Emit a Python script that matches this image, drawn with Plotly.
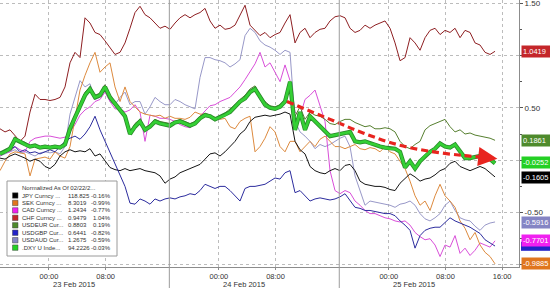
import numpy as np
import pandas as pd
import plotly.graph_objects as go

# ---------------- data (normalized % change since 02/22) ----------------
TIME = pd.date_range("2015-02-22 17:05", "2015-02-25 15:00", periods=100)

JPY = [0.02, 0.01, 0.04, 0.06, 0.04, 0.02, -0.01, 0.01, -0.01, -0.06,
       -0.08, -0.04, 0.04, 0.08, 0.10, 0.08, 0.09, 0.08, 0.11, 0.04,
       0.06, -0.01, -0.07, -0.09, -0.10, -0.08, -0.10, -0.09, -0.08, -0.10,
       -0.11, -0.12, -0.15, -0.22, -0.18, -0.16, -0.12, -0.10, -0.08, -0.06,
       -0.04, 0.01, 0.06, 0.07, 0.04, 0.08, 0.13, 0.18, 0.25, 0.29,
       0.37, 0.41, 0.42, 0.43, 0.42, 0.43, 0.44, 0.46, 0.44, 0.18,
       0.10, 0.06, -0.06, -0.10, -0.12, -0.13, -0.10, -0.08, -0.10, -0.05,
       -0.04, -0.10, -0.20, -0.23, -0.24, -0.25, -0.25, -0.26, -0.28, -0.29,
       -0.22, -0.17, -0.13, -0.16, -0.20, -0.18, -0.17, -0.14, -0.10, -0.08,
       -0.03, -0.01, -0.06, -0.08, -0.10, -0.08, -0.06, -0.08, -0.12, -0.16]

SEK = [-0.10, -0.01, 0.06, 0.08, 0.07, 0.06, -0.15, 0.01, 0.02, 0.03,
       0.01, 0.08, 0.04, 0.02, 0.13, 0.42, 0.67, 0.81, 0.93, 1.03,
       0.84, 0.89, 0.93, 0.70, 0.56, 0.70, 0.56, 0.51, 0.46, 0.44,
       0.43, 0.42, 0.43, 0.40, 0.42, 0.40, 0.40, 0.39, 0.41, 0.46,
       0.44, 0.44, 0.42, 0.41, 0.39, 0.40, 0.32, 0.30, 0.37, 0.40,
       0.42, 0.08, 0.13, 0.21, 0.32, 0.27, 0.13, 0.08, 0.18, 0.18,
       0.08, 0.13, 0.18, 0.13, 0.20, 0.23, 0.18, 0.13, 0.13, 0.11,
       0.13, 0.15, 0.11, 0.10, 0.12, 0.11, 0.08, 0.13, 0.08, 0.06,
       -0.01, -0.08, -0.20, -0.34, -0.43, -0.39, -0.48, -0.34, -0.23, -0.34,
       -0.39, -0.45, -0.58, -0.65, -0.76, -0.69, -0.81, -0.88, -0.92, -0.99]

CAD = [0.04, 0.07, 0.08, 0.13, 0.10, 0.08, 0.18, 0.21, 0.22, 0.23,
       0.23, 0.22, 0.21, 0.22, 0.27, 0.34, 0.43, 0.48, 0.51, 0.56,
       0.58, 0.65, 0.56, 0.49, 0.49, 0.46, 0.48, 0.53, 0.46, 0.18,
       0.43, 0.42, 0.40, 0.40, 0.39, 0.37, 0.34, 0.32, 0.31, 0.35,
       0.42, 0.47, 0.52, 0.53, 0.56, 0.58, 0.60, 0.65, 0.70, 0.77,
       0.84, 0.92, 1.03, 0.89, 0.93, 0.84, 0.75, 0.91, 0.76, 0.46,
       0.42, 0.58, 0.62, 0.67, 0.51, 0.37, -0.10, -0.29, -0.32, -0.29,
       -0.31, -0.39, -0.43, -0.48, -0.51, -0.51, -0.53, -0.55, -0.56, -0.58,
       -0.59, -0.58, -0.62, -0.69, -0.73, -0.76, -0.75, -0.81, -0.92, -0.81,
       -0.83, -0.72, -0.89, -0.84, -0.91, -0.86, -0.79, -0.81, -0.83, -0.77]

CHF = [0.30, 0.27, 0.29, 0.23, 0.18, 0.23, 0.46, 0.63, 0.58, 0.58,
       0.57, 0.58, 0.60, 0.70, 0.93, 1.03, 0.98, 1.36, 1.31, 1.22,
       1.20, 1.14, 1.08, 1.01, 1.03, 1.12, 1.26, 1.41, 1.47, 1.39,
       1.36, 1.31, 1.26, 1.28, 1.25, 1.31, 1.36, 1.39, 1.36, 1.39,
       1.41, 1.45, 1.33, 1.26, 1.29, 1.25, 1.26, 1.29, 1.39, 1.48,
       1.29, 1.24, 1.19, 1.22, 1.17, 1.20, 1.22, 1.31, 1.39, 1.12,
       1.22, 1.26, 1.17, 1.22, 1.25, 1.26, 1.33, 1.37, 1.38, 1.36,
       1.26, 1.22, 1.24, 1.29, 1.26, 1.29, 1.31, 1.33, 1.26, 1.12,
       0.95, 0.98, 1.17, 1.12, 1.05, 1.17, 1.24, 1.26, 1.20, 1.24,
       1.22, 1.26, 1.17, 1.24, 1.22, 1.12, 1.10, 1.03, 1.01, 1.04]

USDEUR = [0.07, 0.09, 0.13, 0.22, 0.19, 0.17, 0.14, 0.15, 0.13, 0.14,
          0.13, 0.14, 0.13, 0.17, 0.33, 0.43, 0.54, 0.65, 0.70, 0.62,
          0.64, 0.72, 0.62, 0.56, 0.50, 0.43, 0.27, 0.35, 0.39, 0.31,
          0.34, 0.39, 0.37, 0.36, 0.35, 0.37, 0.39, 0.37, 0.35, 0.37,
          0.42, 0.45, 0.43, 0.40, 0.42, 0.45, 0.49, 0.53, 0.58, 0.62,
          0.68, 0.71, 0.62, 0.56, 0.52, 0.51, 0.53, 0.58, 0.70, 0.42,
          0.51, 0.39, 0.46, 0.43, 0.42, 0.39, 0.35, 0.34, 0.37, 0.39,
          0.39, 0.36, 0.34, 0.32, 0.33, 0.30, 0.30, 0.31, 0.30, 0.27,
          0.18, 0.13, 0.11, 0.15, 0.18, 0.29, 0.33, 0.35, 0.37, 0.39,
          0.32, 0.27, 0.29, 0.25, 0.26, 0.24, 0.23, 0.22, 0.21, 0.19]

USDGBP = [0.08, 0.07, 0.10, 0.13, 0.08, 0.10, 0.07, 0.08, 0.06, 0.08,
          0.10, 0.08, 0.13, 0.18, 0.21, 0.23, 0.20, 0.25, 0.32, 0.42,
          0.29, 0.18, 0.08, -0.04, -0.15, -0.25, -0.41, -0.42, -0.37, -0.39,
          -0.42, -0.37, -0.39, -0.37, -0.36, -0.37, -0.35, -0.34, -0.32, -0.33,
          -0.29, -0.23, -0.25, -0.27, -0.25, -0.25, -0.29, -0.34, -0.39, -0.27,
          -0.25, -0.25, -0.24, -0.23, -0.20, -0.17, -0.18, -0.12, -0.10, -0.31,
          -0.29, -0.34, -0.39, -0.37, -0.36, -0.37, -0.38, -0.37, -0.35, -0.32,
          -0.39, -0.45, -0.46, -0.48, -0.48, -0.49, -0.50, -0.51, -0.51, -0.53,
          -0.58, -0.62, -0.67, -0.84, -0.72, -0.67, -0.65, -0.64, -0.64, -0.59,
          -0.55, -0.58, -0.60, -0.62, -0.64, -0.67, -0.70, -0.76, -0.79, -0.82]

USDAUD = [0.04, 0.06, 0.08, 0.10, 0.07, 0.08, 0.06, 0.04, 0.07, 0.08,
          0.07, 0.08, 0.06, 0.13, 0.44, 0.60, 0.76, 0.70, 0.73, 0.58,
          0.60, 0.72, 0.56, 0.53, 0.60, 0.65, 0.53, 0.56, 0.56, 0.44,
          0.51, 0.60, 0.56, 0.53, 0.53, 0.58, 0.56, 0.53, 0.51, 0.49,
          0.79, 0.98, 0.98, 0.96, 0.95, 0.93, 0.89, 0.92, 0.96, 1.19,
          1.26, 1.22, 1.14, 1.10, 1.08, 1.05, 1.01, 1.05, 1.03, 0.37,
          0.27, 0.23, 0.18, 0.11, 0.15, 0.13, 0.15, 0.18, 0.21, 0.23,
          0.13, -0.15, -0.29, -0.43, -0.39, -0.40, -0.41, -0.42, -0.43, -0.45,
          -0.42, -0.41, -0.39, -0.43, -0.51, -0.56, -0.58, -0.55, -0.51, -0.43,
          -0.39, -0.48, -0.55, -0.57, -0.58, -0.63, -0.67, -0.62, -0.60, -0.59]

DXY = [0.06, 0.08, 0.11, 0.20, 0.18, 0.15, 0.13, 0.14, 0.12, 0.13,
       0.12, 0.13, 0.12, 0.15, 0.30, 0.41, 0.51, 0.62, 0.68, 0.60,
       0.62, 0.70, 0.60, 0.54, 0.48, 0.42, 0.25, 0.32, 0.37, 0.29,
       0.32, 0.37, 0.35, 0.34, 0.33, 0.36, 0.37, 0.35, 0.33, 0.35,
       0.40, 0.43, 0.42, 0.39, 0.41, 0.43, 0.46, 0.51, 0.56, 0.59,
       0.65, 0.68, 0.60, 0.53, 0.50, 0.49, 0.51, 0.56, 0.75, 0.29,
       0.46, 0.29, 0.42, 0.37, 0.32, 0.27, 0.23, 0.24, 0.25, 0.26,
       0.27, 0.18, 0.17, 0.18, 0.16, 0.15, 0.13, 0.12, 0.11, 0.11,
       0.08, -0.07, -0.01, -0.08, -0.01, 0.04, 0.08, 0.11, 0.16, 0.13,
       0.12, 0.15, 0.08, 0.02, 0.02, 0.03, 0.04, 0.02, 0.01, -0.03]

NAMES = ["JPY Curncy ...", "SEK Curncy ...", "CAD Curncy ...", "CHF Curncy ...",
         "USDEUR Cur...", "USDGBP Cur...", "USDAUD Cur...", ".DXY U Inde..."]
LEVELS = ["118.825", "8.3019", "1.2434", "0.9479", "0.8803", "0.6441", "1.2675", "94.2226"]
CHANGES = ["-0.16%", "-0.99%", "-0.77%", "1.04%", "0.19%", "-0.82%", "-0.59%", "-0.03%"]
LAST_VALUE = [-0.1605, -0.9885, -0.7701, 1.0419, 0.1861, -0.8223, -0.5916, -0.0252]
LAST_TEXT = ["-0.1605", "-0.9885", "-0.7701", "1.0419", "0.1861", "", "-0.5916", "-0.0252"]
LEGEND_TITLE = "Normalized As Of 02/22/2..."

TREND_TIME = ["2015-02-24 09:36", "2015-02-24 15:42", "2015-02-24 20:21", "2015-02-25 01:09",
              "2015-02-25 05:48", "2015-02-25 10:28", "2015-02-25 14:00"]
TREND_VALUE = [0.56, 0.39, 0.26, 0.15, 0.085, 0.045, 0.025]
TREND_TIP = ("2015-02-25 15:20", 0.015)

TICK_TIMES = ["2015-02-23 00:00", "2015-02-23 08:00", "2015-02-24 00:00", "2015-02-24 08:00",
              "2015-02-25 00:00", "2015-02-25 08:00", "2015-02-25 16:00"]
TICK_TEXT = ["00:00", "08:00", "00:00", "08:00", "00:00", "08:00", "16:00"]
DAY_TEXT = ["23 Feb 2015", "24 Feb 2015", "25 Feb 2015"]
DAY_TEXT_TIMES = ["2015-02-23 03:30", "2015-02-24 03:30", "2015-02-25 03:30"]
DAY_BREAKS = ["2015-02-23 17:00", "2015-02-24 17:00"]
Y_TICKS = [1.5, 1.0, 0.5, 0.0, -0.5, -1.0]
Y_TICK_TEXT = ["1.50", "", "0.50", "", "-0.50", ""]
Y_MINOR = [1.25, 0.75, 0.25, -0.25, -0.75]

SERIES = [JPY, SEK, CAD, CHF, USDEUR, USDGBP, USDAUD, DXY]
LINE_COLORS = ["#151515", "#dd8a3e", "#d94fd9", "#8e1f22", "#567f2f", "#2c2c9e", "#9898c8", "#34d034"]
BOX_COLORS = ["#000000", "#e0761e", "#f020f0", "#c4262a", "#4e8a2c", "#2323c8", "#8585c4", "#24d024"]
LINE_WIDTHS = [1, 1, 1, 1, 1, 1, 1, 2.6]
DRAW_ORDER = [6, 2, 1, 3, 0, 5, 4, 7]
BOX_ORDER = [3, 4, 7, 0, 6, 2, 1]
HIDDEN_BOX = 5
DXY_EDGE_COLOR = "#2a8a2a"

# ---------------- layout constants ----------------
W, H = 550, 288
ML, MR, MT, MB = 0, 31, 0, 21
PW, PH = W - ML - MR, H - MT - MB
FONT = "Liberation Sans"
Y_RANGE = [-1.02, 1.53]


def px_x(px):
    return px / PW


def px_y(py):
    return 1 - py / PH


def val_to_py(v):
    return (Y_RANGE[1] - v) / (Y_RANGE[1] - Y_RANGE[0]) * PH


fig = go.Figure()

for i in DRAW_ORDER:
    if i == 7:
        # darker rim beneath the thick index line
        fig.add_trace(go.Scatter(x=TIME, y=SERIES[i], mode="lines", showlegend=False,
                                 line=dict(color=DXY_EDGE_COLOR, width=LINE_WIDTHS[i] + 1.6),
                                 hoverinfo="skip"))
    fig.add_trace(go.Scatter(x=TIME, y=SERIES[i], mode="lines", name=NAMES[i],
                             line=dict(color=LINE_COLORS[i], width=LINE_WIDTHS[i]),
                             hoverinfo="skip"))

# red dashed trend arrow
fig.add_trace(go.Scatter(x=pd.to_datetime(TREND_TIME), y=TREND_VALUE, mode="lines",
                         line=dict(color="#e8241f", width=3.2, dash="7px,4px", shape="spline"),
                         hoverinfo="skip"))

shapes = []
annotations = []

annotations.append(dict(x=TREND_TIP[0], y=TREND_TIP[1], xref="x", yref="y",
                        ax=TREND_TIME[-1], ay=TREND_VALUE[-1], axref="x", ayref="y",
                        showarrow=True, arrowhead=2, arrowsize=1.2, arrowwidth=3.2,
                        arrowcolor="#e8241f", text=""))

# day separators
for b in DAY_BREAKS:
    shapes.append(dict(type="line", xref="x", yref="paper", x0=b, x1=b, y0=-0.09, y1=1,
                       line=dict(color="#9c9c9c", width=1), layer="above"))

# date labels
for t, s in zip(DAY_TEXT_TIMES, DAY_TEXT):
    annotations.append(dict(x=t, y=px_y(284), xref="x", yref="paper", text=s, showarrow=False,
                            font=dict(family=FONT, size=7.5, color="#333333"),
                            xanchor="center", yanchor="middle"))

# legend box
shapes.append(dict(type="rect", xref="paper", yref="paper", x0=px_x(7), x1=px_x(117),
                   y0=px_y(256), y1=px_y(181), fillcolor="white",
                   line=dict(color="#9a9a9a", width=1), layer="above"))
annotations.append(dict(x=px_x(20), y=px_y(188), xref="paper", yref="paper", text=LEGEND_TITLE,
                        showarrow=False, xanchor="left", yanchor="middle",
                        font=dict(family=FONT, size=6, color="#333333")))
for k in range(len(NAMES)):
    ry = 195.5 + 7.45 * k
    shapes.append(dict(type="rect", xref="paper", yref="paper", x0=px_x(12.5), x1=px_x(18),
                       y0=px_y(ry + 2.7), y1=px_y(ry - 2.7), fillcolor=BOX_COLORS[k],
                       line=dict(color="#444444", width=0.5), layer="above"))
    annotations.append(dict(x=px_x(20), y=px_y(ry), xref="paper", yref="paper", text=NAMES[k],
                            showarrow=False, xanchor="left", yanchor="middle",
                            font=dict(family=FONT, size=6, color="#333333")))
    annotations.append(dict(x=px_x(66), y=px_y(ry), xref="paper", yref="paper", text=LEVELS[k],
                            showarrow=False, xanchor="left", yanchor="middle",
                            font=dict(family=FONT, size=6, color="#333333")))
    annotations.append(dict(x=px_x(113), y=px_y(ry), xref="paper", yref="paper", text=CHANGES[k],
                            showarrow=False, xanchor="right", yanchor="middle",
                            font=dict(family=FONT, size=6, color="#333333")))

# last-value box that is hidden under its neighbour (only a strip shows)
hy = val_to_py(LAST_VALUE[HIDDEN_BOX])
shapes.append(dict(type="rect", xref="paper", yref="paper", x0=px_x(521), x1=px_x(552),
                   y0=px_y(hy + 4.5), y1=px_y(hy - 4.5), fillcolor=BOX_COLORS[HIDDEN_BOX],
                   line=dict(width=0), layer="above"))

# last-value boxes on the right axis
for k in BOX_ORDER:
    annotations.append(dict(x=px_x(521), y=LAST_VALUE[k], xref="paper", yref="y",
                            text=LAST_TEXT[k], showarrow=False, xanchor="left", yanchor="middle",
                            bgcolor=BOX_COLORS[k], borderpad=1, width=30, align="left",
                            font=dict(family=FONT, size=7.5, color="white")))

fig.update_layout(
    width=W, height=H,
    margin=dict(l=ML, r=MR, t=MT, b=MB, pad=0, autoexpand=False),
    paper_bgcolor="white", plot_bgcolor="white",
    showlegend=False,
    shapes=shapes, annotations=annotations,
    xaxis=dict(type="date", range=["2015-02-22 17:05", "2015-02-25 18:23"],
               tickvals=TICK_TIMES, ticktext=TICK_TEXT, automargin=False,
               ticklabeloverflow="allow",
               showgrid=True, gridcolor="#bcbcbc", griddash="dot", gridwidth=1,
               showline=True, linecolor="#8c8c8c", linewidth=1,
               ticks="outside", ticklen=2, tickcolor="#8c8c8c",
               tickfont=dict(family=FONT, size=7.5, color="#333333"), zeroline=False),
    yaxis=dict(side="right", range=Y_RANGE, tickvals=Y_TICKS, ticktext=Y_TICK_TEXT,
               automargin=False, ticklabeloverflow="allow",
               showgrid=True, gridcolor="#bcbcbc", griddash="dot", gridwidth=1,
               showline=True, linecolor="#8c8c8c", linewidth=1,
               ticks="outside", ticklen=3, tickcolor="#555555",
               minor=dict(tickvals=Y_MINOR, ticks="outside", ticklen=2, tickcolor="#555555", showgrid=False),
               tickfont=dict(family=FONT, size=8, color="#333333"), zeroline=False),
)

fig.write_html("out.html")
